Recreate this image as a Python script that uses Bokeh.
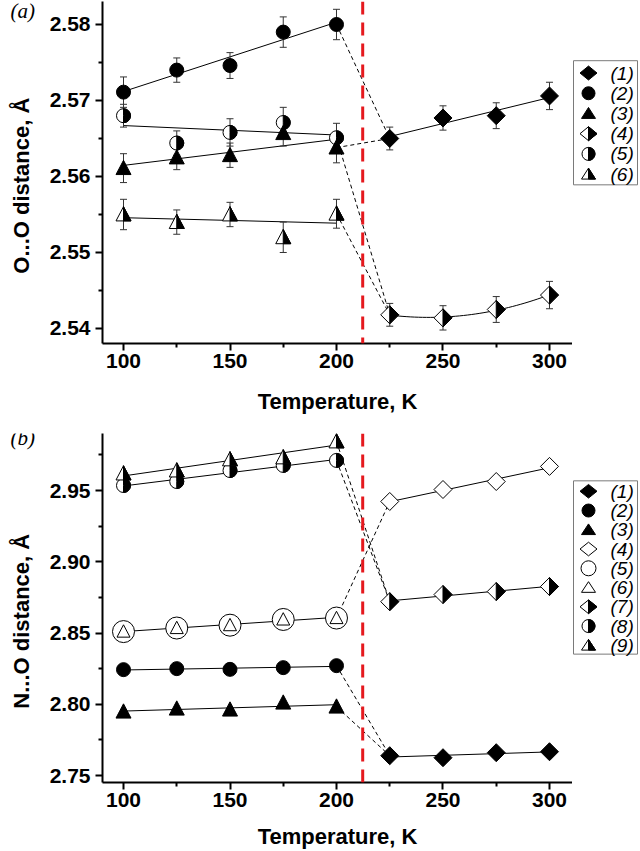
import numpy as np
from bokeh.plotting import figure
from bokeh.layouts import column, row
from bokeh.models import Range1d, FixedTicker, PrintfTickFormatter, Span
from bokeh.core.properties import value
from bokeh.embed import file_html
from bokeh.resources import INLINE

# ---------------- data ----------------
T_low = [100, 125, 150, 175, 200]
T_high = [225, 250, 275, 300]
T_transition = 212.3

# panel (a): O...O distances with errors
a1 = [2.5650, 2.5677, 2.5680, 2.5706]
a1_err = [0.0015, 0.0016, 0.0017, 0.0018]
a2 = [2.5711, 2.5740, 2.5746, 2.5790, 2.5800]
a2_err = [0.0020, 0.0016, 0.0017, 0.0020, 0.0020]
a3 = [2.5611, 2.5625, 2.5628, 2.5657, 2.5638]
a3_err = [0.0019, 0.0016, 0.0016, 0.0017, 0.0020]
a4 = [2.5418, 2.5414, 2.5425, 2.5444]
a4_err = [0.0015, 0.0016, 0.0017, 0.0018]
a5 = [2.5680, 2.5644, 2.5658, 2.5671, 2.5651]
a5_err = [0.0015, 0.0016, 0.0018, 0.0020, 0.0019]
a6 = [2.5550, 2.5540, 2.5550, 2.5520, 2.5551]
a6_err = [0.0020, 0.0016, 0.0016, 0.0020, 0.0019]

# panel (b): N...O distances
b1 = [2.7639, 2.7625, 2.7660, 2.7667]
b2 = [2.8243, 2.8250, 2.8245, 2.8257, 2.8271]
b3 = [2.7948, 2.7969, 2.7962, 2.8011, 2.7983]
b4 = [2.9423, 2.9507, 2.9563, 2.9669]
b5 = [2.8510, 2.8535, 2.8555, 2.8595, 2.8605]
b6 = [2.8510, 2.8535, 2.8555, 2.8595, 2.8605]
b7 = [2.8720, 2.8770, 2.8791, 2.8826]
b8 = [2.9535, 2.9563, 2.9640, 2.9676, 2.9711]
b9 = [2.9619, 2.9640, 2.9718, 2.9732, 2.9844]

x_ticks = [100, 150, 200, 250, 300]
x_minor = [125, 175, 225, 275]
a_yticks = [2.54, 2.55, 2.56, 2.57, 2.58]
a_yminor = [2.545, 2.555, 2.565, 2.575]
b_yticks = [2.75, 2.80, 2.85, 2.90, 2.95]
b_yminor = [2.775, 2.825, 2.875, 2.925, 2.975]
legend_a = ["(1)", "(2)", "(3)", "(4)", "(5)", "(6)"]
legend_b = ["(1)", "(2)", "(3)", "(4)", "(5)", "(6)", "(7)", "(8)", "(9)"]
x_title = "Temperature, K"

# ---------------- layout ----------------
FONT = "Liberation Sans"
LEFT_W = 44     # strip with panel tag and y title
MAIN_W = 528    # axes figure
RIGHT_W = 68    # legend strip
MAIN_BORDER_L = 58
X0, X1 = 90.14, 310.8


def plain_fig(width, height):
    p = figure(width=width, height=height, x_range=Range1d(0, width), y_range=Range1d(0, height),
               output_backend="svg", toolbar_location=None, x_axis_type=None, y_axis_type=None,
               min_border_left=0, min_border_right=0, min_border_top=0, min_border_bottom=0)
    p.outline_line_color = None
    p.grid.visible = False
    return p


def draw_marker(p, sx, sy, kind, fill, xs, ys, size):
    xs = np.asarray(xs, float)
    ys = np.asarray(ys, float)
    body = "black" if fill == "full" else "white"
    if kind == "circle":
        p.scatter(xs, ys, marker="circle", size=size, fill_color=body,
                  line_color="black", line_width=1)
        if fill == "half":
            p.wedge(xs, ys, radius=size / 2, radius_units="screen",
                    start_angle=-np.pi / 2, end_angle=np.pi / 2,
                    fill_color="black", line_color="black", line_width=1)
        return
    if kind == "diamond":
        dx = size / 2 / sx
        dy = size / 2 / sy
        fx = [[x, x + dx, x, x - dx] for x in xs]
        fy = [[y + dy, y, y - dy, y] for y in ys]
        hx = [[x, x + dx, x] for x in xs]
        hy = [[y + dy, y, y - dy] for y in ys]
    else:  # triangle
        h = size * 0.95
        dx = size / 2 / sx
        ya = 0.55 * h / sy
        yb = 0.45 * h / sy
        fx = [[x - dx, x + dx, x] for x in xs]
        fy = [[y - yb, y - yb, y + ya] for y in ys]
        hx = [[x, x + dx, x] for x in xs]
        hy = [[y - yb, y - yb, y + ya] for y in ys]
    p.patches(fx, fy, fill_color=body, line_color="black", line_width=1, line_join="miter")
    if fill == "half":
        p.patches(hx, hy, fill_color="black", line_color="black", line_width=1,
                  line_join="miter")


class Panel:
    def __init__(self, top, frame_h, bottom, y0, y1, yticks, yminor, xlabel_standoff):
        height = top + frame_h + bottom
        self.height = height
        self.sx = (MAIN_W - MAIN_BORDER_L) / (X1 - X0)
        self.sy = frame_h / (y1 - y0)
        p = figure(width=MAIN_W, height=height, x_range=Range1d(X0, X1), y_range=Range1d(y0, y1),
                   output_backend="svg", toolbar_location=None,
                   min_border_left=MAIN_BORDER_L, min_border_right=0, min_border_top=top,
                   min_border_bottom=bottom)
        p.outline_line_color = None
        p.grid.visible = False
        for ax in (p.xaxis[0], p.yaxis[0]):
            ax.axis_line_width = 2
            ax.major_tick_line_width = 2
            ax.minor_tick_line_width = 2
            ax.major_tick_in = 0
            ax.major_tick_out = 7
            ax.minor_tick_in = 0
            ax.minor_tick_out = 4
            ax.major_label_text_font = FONT
            ax.major_label_text_font_style = "bold"
            ax.major_label_text_font_size = "21px"
            ax.major_label_text_color = "black"
            ax.axis_line_color = "black"
            ax.major_tick_line_color = "black"
            ax.minor_tick_line_color = "black"
        xa = p.xaxis[0]
        xa.ticker = FixedTicker(ticks=x_ticks, minor_ticks=x_minor)
        xa.major_label_standoff = 3
        xa.axis_label = x_title
        xa.axis_label_text_font = FONT
        xa.axis_label_text_font_style = "bold"
        xa.axis_label_text_font_size = "22px"
        xa.axis_label_text_color = "black"
        xa.axis_label_standoff = xlabel_standoff
        ya_ = p.yaxis[0]
        ya_.ticker = FixedTicker(ticks=yticks, minor_ticks=yminor)
        ya_.formatter = PrintfTickFormatter(format="%.2f")
        ya_.major_label_standoff = 5
        p.add_layout(Span(location=T_transition, dimension="height", line_color="#e5191e",
                          line_width=3, line_dash="13 8"))
        self.p = p
        self.left = plain_fig(LEFT_W, height)
        self.right = plain_fig(RIGHT_W, height)

    def marker(self, kind, fill, xs, ys, size):
        draw_marker(self.p, self.sx, self.sy, kind, fill, xs, ys, size)

    def fit(self, T, v, deg=1):
        c = np.polyfit(T, v, deg)
        if deg == 1:
            xx = np.array([T[0], T[-1]], float)
        else:
            xx = np.linspace(T[0], T[-1], 40)
        self.p.line(xx, np.polyval(c, xx), line_color="black", line_width=1)

    def connect(self, va, vb):
        self.p.line([T_low[-1], T_high[0]], [va[-1], vb[0]], line_color="black",
                    line_width=1, line_dash="4 3")

    def errors(self, T, v, e):
        v = np.asarray(v)
        e = np.asarray(e)
        self.p.segment(T, v - e, T, v + e, line_color="#333333", line_width=1)
        self.p.scatter(T, v + e, marker="dash", size=7, line_color="#333333", line_width=1)
        self.p.scatter(T, v - e, marker="dash", size=7, line_color="#333333", line_width=1)

    def titles(self, tag, tag_mid, ylabel, ylabel_mid):
        H = self.height
        self.left.text(x=[10], y=[H - tag_mid], text=[tag],
                       text_font=value("Liberation Serif"), text_font_style="italic",
                       text_font_size="21px", text_align="left", text_baseline="middle",
                       text_color="black")
        self.left.text(x=[21], y=[H - ylabel_mid], text=[ylabel], angle=np.pi / 2,
                       text_font=value(FONT), text_font_style="bold", text_font_size="22px",
                       text_align="center", text_baseline="middle", text_color="black")

    def legend(self, labels, specs, box_top, box_bottom, row0, step):
        H = self.height
        q = self.right
        q.quad(left=[1], right=[65], top=[H - box_top], bottom=[H - box_bottom],
               fill_color="white", line_color="#7a7a7a", line_width=1)
        ys = [H - (row0 + step * i) for i in range(len(labels))]
        for (kind, fill, size), y in zip(specs, ys):
            draw_marker(q, 1.0, 1.0, kind, fill, [16], [y], size)
        q.text(x=[38] * len(labels), y=ys, text=labels,
               text_font=value(FONT), text_font_style="italic",
               text_font_size="19px", text_baseline="middle", text_align="left",
               text_color="black")

    def layout(self):
        return row(self.left, self.p, self.right, spacing=0)


# ---------------- panel (a) ----------------
A = Panel(1, 342, 73, 2.538026, 2.583026, a_yticks, a_yminor, 18)
A.titles("(a)", 11, "O...O distance, \u00c5", 224)
for T, v in ((T_low, a2), (T_low, a5), (T_low, a3), (T_low, a6), (T_high, a1)):
    A.fit(T, v)
A.fit(T_high, a4, 2)
A.connect(a2, a1)
A.connect(a3, a1)
A.connect(a5, a4)
A.connect(a6, a4)
for T, v, e in ((T_low, a2, a2_err), (T_low, a5, a5_err), (T_low, a3, a3_err),
                (T_low, a6, a6_err), (T_high, a1, a1_err), (T_high, a4, a4_err)):
    A.errors(T, v, e)
A.marker("circle", "full", T_low, a2, 14)
A.marker("circle", "half", T_low, a5, 14)
A.marker("triangle", "full", T_low, a3, 15)
A.marker("triangle", "half", T_low, a6, 15)
A.marker("diamond", "full", T_high, a1, 18)
A.marker("diamond", "half", T_high, a4, 18)
A.legend(legend_a,
         [("diamond", "full", 17), ("circle", "full", 13), ("triangle", "full", 14),
          ("diamond", "half", 17), ("circle", "half", 13), ("triangle", "half", 14)],
         72, 223, 87, 24.6)

# ---------------- panel (b) ----------------
B = Panel(17, 349, 69, 2.7451, 2.9900, b_yticks, b_yminor, 14)
B.titles("(b)", 6, "N...O distance, \u00c5", 234)
for T, v in ((T_low, b2), (T_low, b3), (T_low, b5), (T_low, b8), (T_low, b9),
             (T_high, b1), (T_high, b4), (T_high, b7)):
    B.fit(T, v)
B.connect(b9, b7)
B.connect(b8, b7)
B.connect(b5, b4)
B.connect(b2, b1)
B.connect(b3, b1)
B.marker("circle", "full", T_low, b2, 14)
B.marker("triangle", "full", T_low, b3, 15)
B.marker("circle", "open", T_low, b5, 22)
B.marker("triangle", "open", T_low, b6, 13)
B.marker("circle", "half", T_low, b8, 14)
B.marker("triangle", "half", T_low, b9, 15)
B.marker("diamond", "full", T_high, b1, 18)
B.marker("diamond", "open", T_high, b4, 18)
B.marker("diamond", "half", T_high, b7, 18)
B.legend(legend_b,
         [("diamond", "full", 17), ("circle", "full", 13), ("triangle", "full", 14),
          ("diamond", "open", 17), ("circle", "open", 15), ("triangle", "open", 14),
          ("diamond", "half", 17), ("circle", "half", 13), ("triangle", "half", 14)],
         59, 275, 72, 24)

layout = column(A.layout(), B.layout(), spacing=0)
with open("out.html", "w", encoding="utf-8") as f:
    f.write(file_html(layout, INLINE))
